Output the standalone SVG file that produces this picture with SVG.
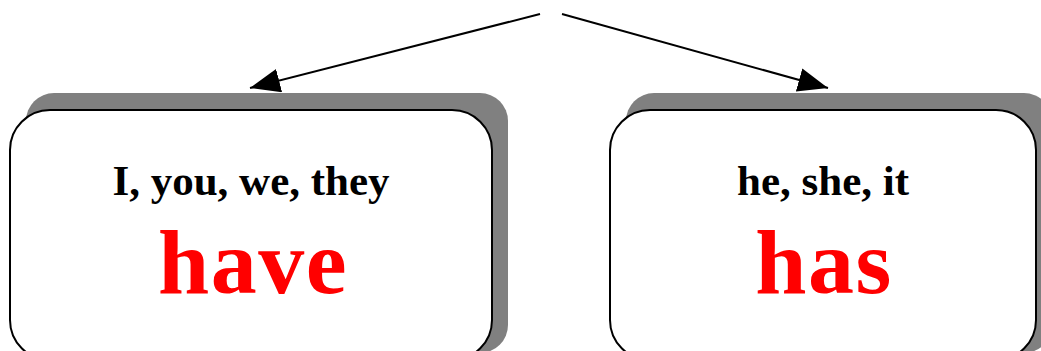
<svg xmlns="http://www.w3.org/2000/svg" width="1041" height="351" viewBox="0 0 1041 351">
<style>
.shadow{fill:#808080;}
.box{fill:#fff;stroke:#000;stroke-width:2;}
.sub{font-family:"Liberation Serif",serif;font-weight:bold;font-size:43px;fill:#000;text-anchor:middle;}
.verb{font-family:"Liberation Serif",serif;font-weight:bold;font-size:92px;fill:#ff0000;text-anchor:middle;letter-spacing:1.5px;}
.conn{stroke:#000;stroke-width:2;fill:none;marker-end:url(#ah);}
</style>
<defs>
<marker id="ah" markerUnits="userSpaceOnUse" markerWidth="32" markerHeight="24" refX="30" refY="12" orient="auto">
<path d="M0,0 L30,12 L0,24 Z" fill="#000"/>
</marker>
</defs>
<rect width="1041" height="351" fill="#fff"/>
<g id="connectors">
<line class="conn" x1="540" y1="14" x2="250" y2="88"/>
<line class="conn" x1="562" y1="14" x2="828" y2="88"/>
</g>
<g id="node-have">
<rect class="shadow" x="26" y="93" width="482" height="260" rx="28"/>
<rect class="box" x="10" y="110" width="482" height="250" rx="40"/>
<text class="sub" x="251" y="195">I, you, we, they</text>
<text class="verb" x="253" y="293">have</text>
</g>
<g id="node-has">
<rect class="shadow" x="626" y="93" width="426" height="260" rx="28"/>
<rect class="box" x="610" y="110" width="426" height="250" rx="40"/>
<text class="sub" x="823" y="195">he, she, it</text>
<text class="verb" x="824" y="293">has</text>
</g>
</svg>
